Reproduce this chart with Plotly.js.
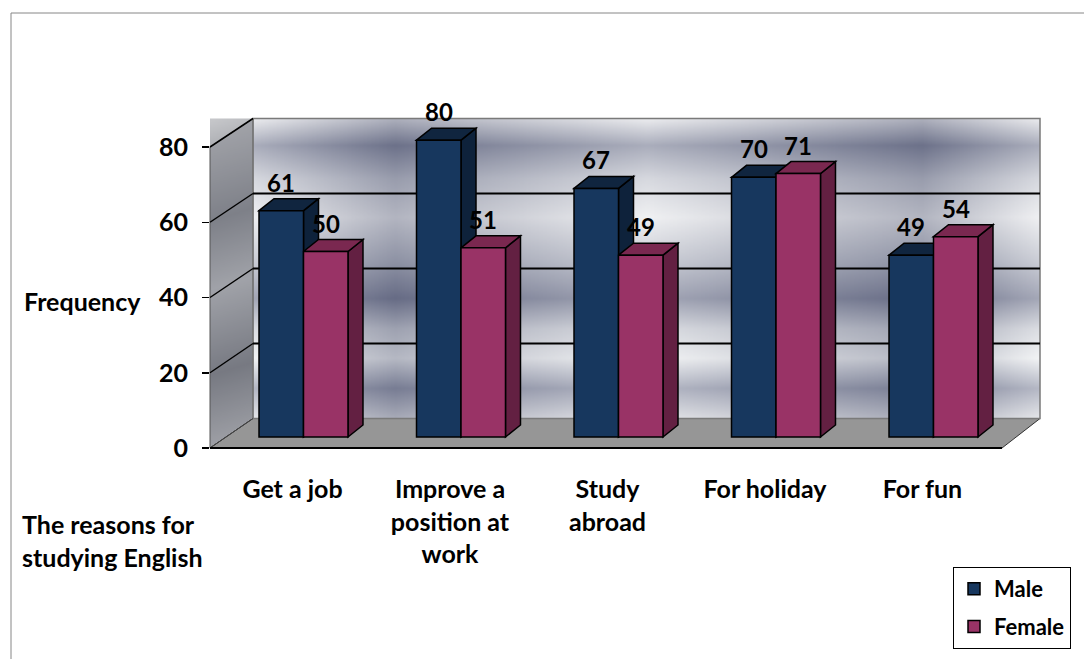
<!DOCTYPE html>
<html>
<head>
<meta charset="utf-8">
<script src="https://cdn.plot.ly/plotly-3.0.1.min.js"></script>
<style>html,body{margin:0;padding:0;background:#fff;}#chart{width:1084px;height:659px;}</style>
</head>
<body>
<div id="chart"></div>
<script>
// ---- data ----
const categories = ['Get a job', 'Improve a position at work', 'Study abroad', 'For holiday', 'For fun'];
const tickLabels = ['Get a job', 'Improve a<br>position at<br>work', 'Study<br>abroad', 'For holiday', 'For fun'];
const male = [61, 80, 67, 70, 49];
const female = [50, 51, 49, 71, 54];
const yTicks = [0, 20, 40, 60, 80];
const seriesNames = ['Male', 'Female'];

// ---- styling / geometry ----
const FONT = 'Lato, "Open Sans", sans-serif';
const colors = {
  male: {front: '#17375E', top: '#10253F', side: '#0E223B'},
  female: {front: '#993366', top: '#7A2850', side: '#632042'}
};
const P = {l: 210, r: 1040, t: 100, b: 448};        // plot area in px
const fx = px => (px - P.l) / (P.r - P.l);
const fy = py => (P.b - py) / (P.b - P.t);

// tick axis (front plane): 0 at 448px, 80 at 147px
const frontScale = (448 - 147) / 80;
const y2Top = (P.b - P.t) / frontScale;
// bar plane: 0 at 437px, 3.71 px / unit (same domain, shifted range)
const barZero = 437, barScale = 3.71;
const yBottom = -(P.b - barZero) / barScale;
const yTop = (barZero - P.t) / barScale;
// category plane
const catPx = 157.5, firstCenter = 303.5;
const xr0 = -(firstCenter - P.l) / catPx, xr1 = (P.r - firstCenter) / catPx;
const labelShift = 11 / catPx;
const bargap = 0.435, bw = (1 - bargap) / 2;
const depthX = 15 / catPx, depthY = 12 / barScale;

// back wall gradient image
function wallImage() {
  const c = document.createElement('canvas');
  c.width = 400; c.height = 300;
  const g = c.getContext('2d');
  const v = g.createLinearGradient(0, 0, 0, 300);
  [[0, '#e2e3e7'], [0.09, '#7c8197'], [0.2, '#c0c3cd'], [0.33, '#e8e9ec'], [0.48, '#aeb2bf'],
   [0.6, '#737890'], [0.7, '#c8cbd3'], [0.8, '#eceef0'], [0.9, '#8d92a6'], [1, '#d8dadf']].forEach(s => v.addColorStop(s[0], s[1]));
  g.fillStyle = v; g.fillRect(0, 0, 400, 300);
  const h = g.createLinearGradient(0, 0, 400, 0);
  [[0, '#ffffff'], [0.18, '#4f5470'], [0.5, '#ffffff'], [0.85, '#4f5470'], [1, '#ffffff']].forEach(s => h.addColorStop(s[0], s[1]));
  g.globalAlpha = 0.35; g.fillStyle = h; g.fillRect(0, 0, 400, 300);
  return c.toDataURL('image/png');
}
function sideImage() {
  const c = document.createElement('canvas');
  c.width = 60; c.height = 300;
  const g = c.getContext('2d');
  const v = g.createLinearGradient(0, 0, 60, 300);
  [[0, '#c8c9cc'], [0.3, '#6d7079'], [0.5, '#b9bbc0'], [0.75, '#5e616b'], [1, '#c4c5c9']].forEach(s => v.addColorStop(s[0], s[1]));
  g.fillStyle = v; g.fillRect(0, 0, 60, 300);
  return c.toDataURL('image/png');
}

const shapes = [];
// outer chart border
shapes.push({type: 'rect', xref: 'paper', yref: 'paper', x0: fx(11), x1: fx(1095), y0: fy(13), y1: fy(680),
  line: {color: '#868686', width: 1}, fillcolor: 'rgba(0,0,0,0)', layer: 'below'});
const bx = 253, backTop = 118.5, back0 = 418.5, backScale = (back0 - backTop) / 80;
// side wall
shapes.push({type: 'path', xref: 'paper', yref: 'paper', layer: 'below',
  path: `M${fx(210)},${fy(147)} L${fx(bx)},${fy(backTop)} L${fx(bx)},${fy(back0)} L${fx(210)},${fy(448)} Z`,
  fillcolor: 'rgba(140,142,150,0.55)', line: {color: '#555', width: 1}});
// floor
shapes.push({type: 'path', xref: 'paper', yref: 'paper', layer: 'below',
  path: `M${fx(210)},${fy(448)} L${fx(bx)},${fy(back0)} L${fx(1040)},${fy(back0)} L${fx(1002)},${fy(448)} Z`,
  fillcolor: '#969696', line: {color: '#333', width: 1}});
// back wall outline
shapes.push({type: 'rect', xref: 'paper', yref: 'paper', layer: 'below',
  x0: fx(bx), x1: fx(1040), y0: fy(back0), y1: fy(backTop), line: {color: '#7a7a7a', width: 1.5}, fillcolor: 'rgba(0,0,0,0)'});
// gridlines (back wall + side wall diagonals)
yTicks.forEach(t => {
  const yb = back0 - t * backScale, yf = 448 - t * frontScale;
  if (t > 0 && t < 80) {
    shapes.push({type: 'line', xref: 'paper', yref: 'paper', layer: 'below',
      x0: fx(bx), x1: fx(1040), y0: fy(yb), y1: fy(yb), line: {color: '#000', width: 2}});
  }
  shapes.push({type: 'line', xref: 'paper', yref: 'paper', layer: 'below',
    x0: fx(210), x1: fx(bx), y0: fy(yf), y1: fy(yb), line: {color: t === 0 ? '#444' : '#000', width: t === 0 ? 1 : 1.5}});
});
// floor front edge
shapes.push({type: 'line', xref: 'paper', yref: 'paper', layer: 'below',
  x0: fx(210), x1: fx(1002), y0: fy(448), y1: fy(448), line: {color: '#000', width: 2}});

// 3D faces of bars (drawn from data values on the bar axes)
function addFaces(vals, offset, col) {
  vals.forEach((v, i) => {
    const x0 = i + offset, x1 = x0 + bw;
    shapes.push({type: 'path', xref: 'x', yref: 'y', layer: 'between',
      path: `M${x1},0 L${x1 + depthX},${depthY} L${x1 + depthX},${v + depthY} L${x1},${v} Z`,
      fillcolor: col.side, line: {color: '#000', width: 1.5}});
    shapes.push({type: 'path', xref: 'x', yref: 'y', layer: 'between',
      path: `M${x0},${v} L${x0 + depthX},${v + depthY} L${x1 + depthX},${v + depthY} L${x1},${v} Z`,
      fillcolor: col.top, line: {color: '#000', width: 1.5}});
  });
}
addFaces(male, -bw, colors.male);
addFaces(female, 0, colors.female);

// value labels
const annotations = [];
[[male, -bw / 2], [female, bw / 2]].forEach(([vals, off]) => {
  vals.forEach((v, i) => annotations.push({x: i + off, y: v, xref: 'x', yref: 'y', text: String(v),
    showarrow: false, yanchor: 'bottom', yshift: 12, font: {family: FONT, size: 24, weight: 'bold', color: '#000'}}));
});
const bigFont = {family: FONT, size: 25, weight: 'bold', color: '#000'};
annotations.push({xref: 'paper', yref: 'paper', x: fx(22), y: fy(301), xanchor: 'left', yanchor: 'middle',
  text: 'Frequency', showarrow: false, font: bigFont});
annotations.push({xref: 'paper', yref: 'paper', x: fx(20), y: fy(540), xanchor: 'left', yanchor: 'middle', align: 'left',
  text: 'The reasons for<br>studying English', showarrow: false, font: bigFont});

const traces = [
  {type: 'bar', name: seriesNames[0], x: categories, y: male, xaxis: 'x', yaxis: 'y', legendgroup: 'm',
   marker: {color: colors.male.front, line: {color: '#000', width: 1.5}}, hoverinfo: 'skip'},
  {type: 'bar', name: seriesNames[1], x: categories, y: female, xaxis: 'x', yaxis: 'y', legendgroup: 'f',
   marker: {color: colors.female.front, line: {color: '#000', width: 1.5}}, hoverinfo: 'skip'},
  {type: 'scatter', x: [], y: [], xaxis: 'x2', yaxis: 'y2', showlegend: false, hoverinfo: 'skip'}
];

const layout = {
  width: 1084, height: 659,
  margin: {l: 210, r: 1084 - 1040, t: 100, b: 659 - 448, pad: 0, autoexpand: false},
  paper_bgcolor: '#fff', plot_bgcolor: 'rgba(0,0,0,0)',
  barmode: 'group', bargap: bargap, bargroupgap: 0,
  hovermode: false,
  xaxis: {type: 'category', domain: [0, 1], range: [xr0, xr1], visible: false, anchor: 'y'},
  yaxis: {domain: [0, 1], range: [yBottom, yTop], visible: false, anchor: 'x'},
  xaxis2: {type: 'linear', overlaying: 'x', anchor: 'y2', range: [xr0 + labelShift, xr1 + labelShift],
    tickvals: [0, 1, 2, 3, 4], ticktext: tickLabels, showgrid: false, zeroline: false, showline: false,
    ticks: '', ticklabelstandoff: 24, tickfont: bigFont},
  yaxis2: {overlaying: 'y', anchor: 'x2', side: 'left', range: [0, y2Top], tickvals: yTicks,
    showgrid: false, zeroline: false, showline: false, ticks: 'outside', ticklen: 7, tickwidth: 1.5,
    tickcolor: '#000', ticklabelstandoff: 9, tickfont: bigFont},
  showlegend: true,
  legend: {x: fx(953), xanchor: 'left', y: fy(567), yanchor: 'top', bgcolor: '#fff', bordercolor: '#000',
    borderwidth: 1, traceorder: 'grouped', tracegroupgap: 6, itemwidth: 30,
    font: {family: FONT, size: 22, weight: 'bold', color: '#000'}},
  images: [
    {source: wallImage(), xref: 'paper', yref: 'paper', x: fx(bx), y: fy(backTop),
     sizex: fx(1040) - fx(bx), sizey: fy(backTop) - fy(back0), sizing: 'stretch', xanchor: 'left', yanchor: 'top', layer: 'below'},
    {source: sideImage(), xref: 'paper', yref: 'paper', x: fx(210), y: fy(backTop),
     sizex: fx(bx) - fx(210), sizey: fy(backTop) - fy(448), sizing: 'stretch', xanchor: 'left', yanchor: 'top', layer: 'below'}
  ],
  shapes: shapes,
  annotations: annotations
};

Plotly.newPlot('chart', traces, layout, {displayModeBar: false, staticPlot: true});
</script>
</body>
</html>
